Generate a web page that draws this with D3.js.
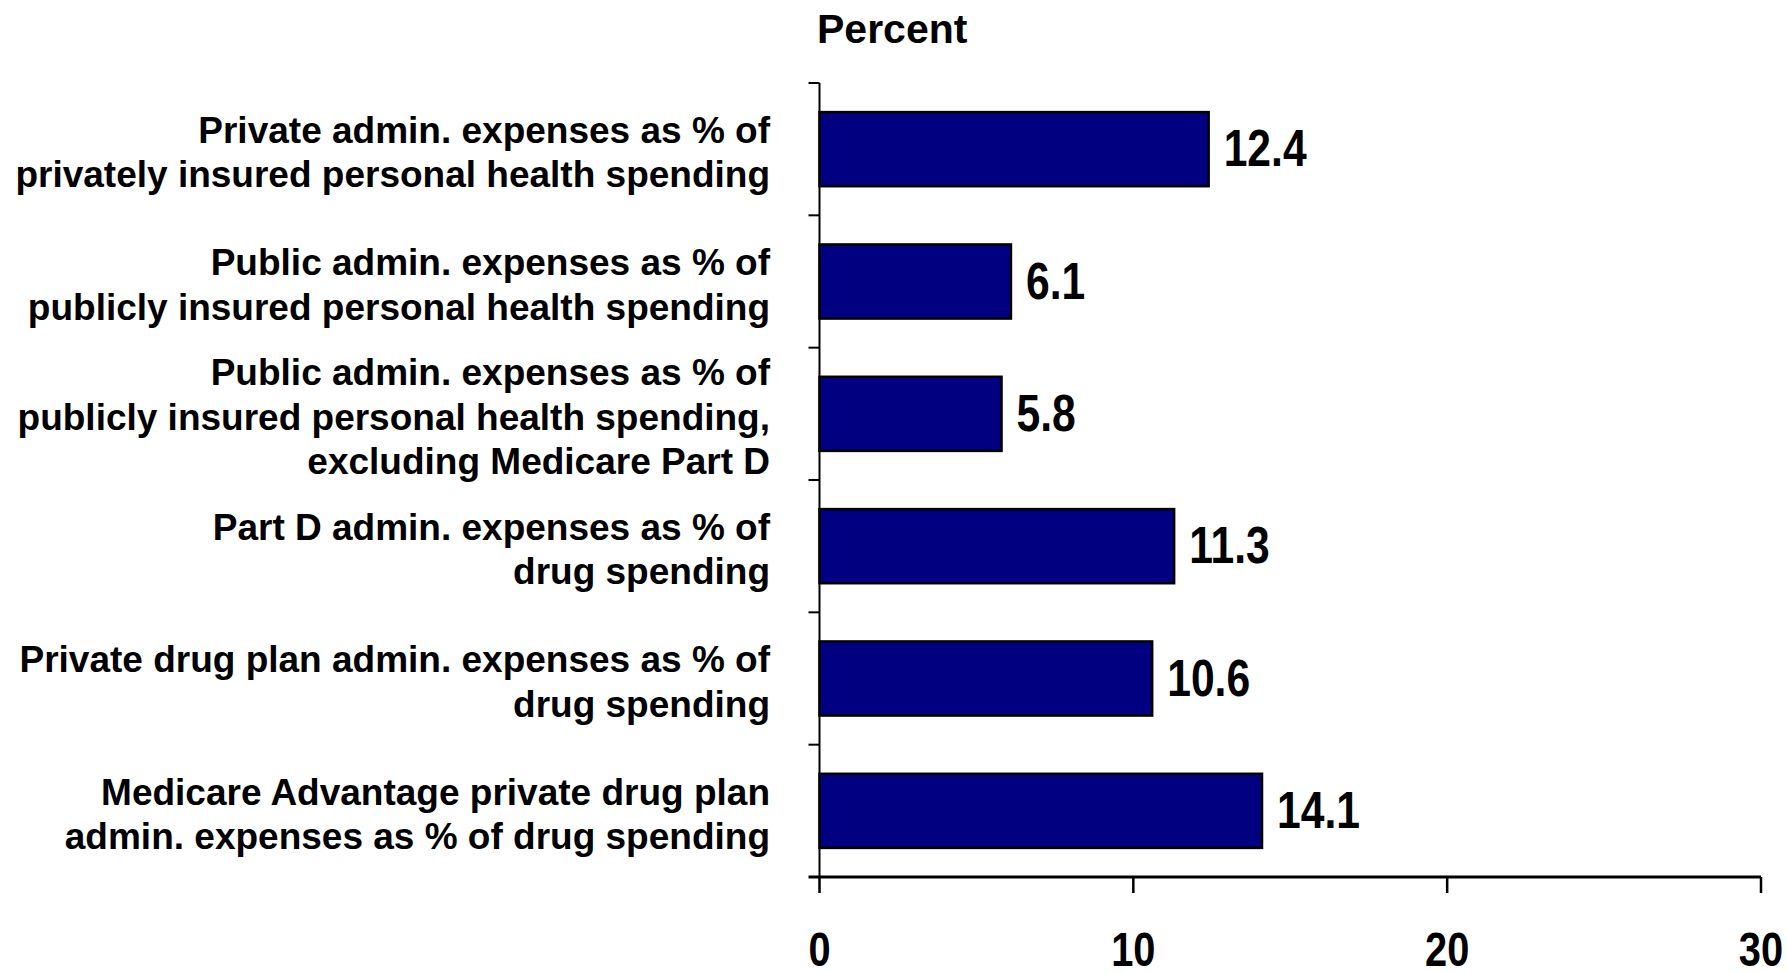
<!DOCTYPE html>
<html>
<head>
<meta charset="utf-8">
<script src="https://cdn.jsdelivr.net/npm/d3@7"></script>
<style>
  body { margin: 0; background: #fff; }
  svg { display: block; }
  text { font-family: "Liberation Sans", Arial, sans-serif; font-weight: bold; fill: #000; }
</style>
</head>
<body>
<figure id="bar" style="margin:0"></figure>
<script>
// chart data
const categories = [
  ["Private admin. expenses as % of", "privately insured personal health spending"],
  ["Public admin. expenses as % of", "publicly insured personal health spending"],
  ["Public admin. expenses as % of", "publicly insured personal health spending,", "excluding Medicare Part D"],
  ["Part D admin. expenses as % of", "drug spending"],
  ["Private drug plan admin. expenses as % of", "drug spending"],
  ["Medicare Advantage private drug plan", "admin. expenses as % of drug spending"]
];
const values = [12.4, 6.1, 5.8, 11.3, 10.6, 14.1];
const xTicks = [0, 10, 20, 30];
const axisTitle = "Percent";

const width = 1787;
const height = 973;
const plotLeft = 819.5, plotRight = 1761, plotTop = 83, plotBottom = 877;

const svg = d3.select("figure#bar")
  .append("svg")
  .attr("width", width)
  .attr("height", height);

// scales
const x = d3.scaleLinear()
  .domain([0, 30])
  .range([plotLeft, plotRight]);

const y = d3.scaleBand()
  .domain(d3.range(categories.length))
  .range([plotTop, plotBottom])
  .paddingInner(0.44)
  .paddingOuter(0.22);

const step = y.step();
const bandEdge = i => y(i) - step * 0.22;

// title
svg.append("text")
  .attr("x", 817)
  .attr("y", 43)
  .attr("font-size", 41)
  .text(axisTitle);

// bars
svg.selectAll("rect.bar")
  .data(values)
  .enter()
  .append("rect")
  .attr("class", "bar")
  .attr("x", x(0))
  .attr("y", (d, i) => y(i))
  .attr("width", d => x(d) - x(0))
  .attr("height", y.bandwidth())
  .attr("fill", "#000080")
  .attr("stroke", "#000")
  .attr("stroke-width", 2.5);

// value labels (narrow bold)
svg.selectAll("text.val")
  .data(values)
  .enter()
  .append("text")
  .attr("class", "val")
  .attr("font-size", 52)
  .attr("transform", (d, i) => "translate(" + (x(d) + 15) + "," + (y(i) + y.bandwidth() / 2 + 17) + ") scale(0.82,1)")
  .text(d => d.toFixed(1));

// y axis: line plus ticks at the band boundaries
const yAxis = svg.append("g");
yAxis.append("line")
  .attr("x1", plotLeft).attr("x2", plotLeft)
  .attr("y1", plotTop).attr("y2", plotBottom)
  .attr("stroke", "#000").attr("stroke-width", 2);
yAxis.selectAll("line.tick")
  .data(d3.range(categories.length))
  .enter()
  .append("line")
  .attr("class", "tick")
  .attr("x1", plotLeft - 11).attr("x2", plotLeft)
  .attr("y1", i => bandEdge(i)).attr("y2", i => bandEdge(i))
  .attr("stroke", "#000").attr("stroke-width", 2);

// category labels, right aligned
categories.forEach((lines, i) => {
  const cy = y(i) + y.bandwidth() / 2;
  const t = svg.append("text")
    .attr("text-anchor", "end")
    .attr("font-size", 37);
  lines.forEach((line, j) => {
    t.append("tspan")
      .attr("x", 770)
      .attr("y", cy + 16 + (j - (lines.length - 1) / 2) * 44.5)
      .text(line);
  });
});

// x axis
const xAxis = svg.append("g");
xAxis.append("line")
  .attr("x1", plotLeft - 11).attr("x2", plotRight)
  .attr("y1", plotBottom).attr("y2", plotBottom)
  .attr("stroke", "#000").attr("stroke-width", 3);
xAxis.selectAll("line.tick")
  .data(xTicks)
  .enter()
  .append("line")
  .attr("class", "tick")
  .attr("x1", d => x(d)).attr("x2", d => x(d))
  .attr("y1", plotBottom).attr("y2", plotBottom + 16)
  .attr("stroke", "#000").attr("stroke-width", 2.5);
xAxis.selectAll("text")
  .data(xTicks)
  .enter()
  .append("text")
  .attr("text-anchor", "middle")
  .attr("font-size", 48)
  .attr("transform", d => "translate(" + x(d) + "," + (plotBottom + 89) + ") scale(0.83,1)")
  .text(d => d);
</script>
</body>
</html>
